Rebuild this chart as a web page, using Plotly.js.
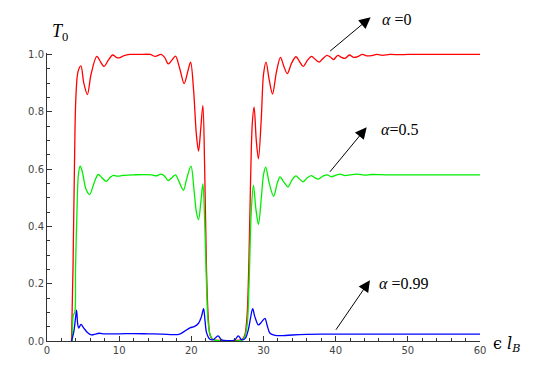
<!DOCTYPE html>
<html>
<head>
<meta charset="utf-8">
<script src="https://cdn.plot.ly/plotly-3.0.1.min.js"></script>
<style>
  html, body { margin: 0; padding: 0; background: #fff; }
  #plot { width: 545px; height: 382px; }
</style>
</head>
<body>
<div id="plot"></div>
<script>
  // alpha = 0 (red)
  const redX = [3.4, 3.6, 3.8, 4.0, 4.3, 4.7, 5.1, 5.6, 6.1, 6.9, 7.4, 7.9, 8.5, 9.1, 9.6, 10.0, 10.6, 11.5, 13, 14.3,
    15.0, 15.8, 16.3, 16.8, 17.3, 17.8, 18.4, 19.0, 19.5, 19.9, 20.3, 20.7, 21.0, 21.3, 21.6, 21.85, 22.1, 22.35, 22.6, 23.0,
    24, 25, 26, 27, 27.4, 27.7, 27.95, 28.2, 28.45, 28.7, 29.0, 29.3, 29.7, 30.0, 30.35, 30.8, 31.25, 31.8, 32.35, 32.8,
    33.3, 33.9, 34.5, 35.0, 35.5, 36.1, 36.65, 37.2, 37.7, 38.2, 38.8, 39.3, 39.7, 40.3, 40.8, 41.3, 41.9, 42.5, 43.1, 43.7,
    44.3, 45.0, 45.7, 46.5, 47.5, 49, 50, 60];
  const redY = [0, 0.25, 0.6, 0.85, 0.94, 0.96, 0.9, 0.86, 0.93, 0.993, 0.975, 0.958, 0.98, 0.998, 0.99, 0.988, 0.995, 1.0, 1.0, 1.0,
    0.993, 1.0, 0.99, 0.967, 0.98, 0.994, 0.95, 0.898, 0.94, 0.973, 0.88, 0.72, 0.663, 0.74, 0.822, 0.6, 0.25, 0.08, 0.02, 0.005,
    0.002, 0, 0.002, 0.005, 0.02, 0.08, 0.25, 0.55, 0.76, 0.816, 0.7, 0.636, 0.78, 0.93, 0.973, 0.91, 0.862, 0.94, 0.99, 0.96,
    0.933, 0.97, 0.992, 0.975, 0.958, 0.98, 0.993, 0.982, 0.973, 0.985, 0.997, 0.99, 0.982, 0.997, 0.99, 0.986, 0.998, 0.99, 0.993, 1.0,
    0.995, 0.996, 1.0, 0.997, 1.0, 0.999, 1.0, 1.0];

  // alpha = 0.5 (green)
  const greenX = [3.5, 3.65, 3.85, 3.95, 4.15, 4.35, 4.6, 4.9, 5.4, 5.9, 6.5, 7.1, 7.6, 8.2, 8.7, 9.2, 9.8, 10.5, 12, 14.5,
    15.1, 15.8, 16.3, 16.8, 17.3, 17.8, 18.4, 18.9, 19.4, 19.95, 20.4, 20.7, 21.0, 21.3, 21.6, 21.85, 22.1, 22.35, 22.7, 23.2,
    25, 27, 27.4, 27.75, 28.0, 28.3, 28.6, 28.95, 29.3, 29.7, 30.0, 30.3, 30.8, 31.4, 31.9, 32.3, 32.8, 33.4, 33.9, 34.5,
    35.0, 35.5, 36.0, 36.6, 37.1, 37.6, 38.2, 38.8, 39.4, 40.0, 40.6, 41.3, 42.0, 43, 44, 45, 47, 60];
  const greenY = [0, 0.09, 0.1, 0.25, 0.45, 0.58, 0.61, 0.59, 0.53, 0.511, 0.55, 0.581, 0.57, 0.557, 0.57, 0.578, 0.575, 0.578, 0.58, 0.58,
    0.576, 0.582, 0.575, 0.56, 0.57, 0.58, 0.55, 0.526, 0.57, 0.61, 0.52, 0.45, 0.424, 0.48, 0.549, 0.42, 0.2, 0.06, 0.015, 0.003,
    0, 0.003, 0.015, 0.06, 0.2, 0.45, 0.544, 0.46, 0.407, 0.5, 0.58, 0.607, 0.55, 0.505, 0.55, 0.573, 0.555, 0.538, 0.56, 0.576,
    0.565, 0.555, 0.568, 0.577, 0.57, 0.565, 0.575, 0.58, 0.573, 0.578, 0.582, 0.577, 0.58, 0.582, 0.579, 0.581, 0.58, 0.58];

  // alpha = 0.99 (blue)
  const blueX = [3.4, 3.7, 3.95, 4.1, 4.25, 4.4, 4.7, 5.1, 5.6, 6.2, 6.7, 7.2, 8, 10, 12, 14, 16, 17.5, 18.4, 19.8,
    20.4, 21.0, 21.4, 21.7, 21.9, 22.1, 22.5, 23.0, 23.7, 24.2, 25, 26, 26.5, 27.0, 27.5, 27.9, 28.2, 28.5, 28.8, 29.3,
    29.7, 30.2, 30.5, 30.9, 31.6, 32.7, 34, 36, 38, 40, 60];
  const blueY = [0, 0.03, 0.08, 0.108, 0.06, 0.045, 0.058, 0.045, 0.03, 0.021, 0.024, 0.027, 0.025, 0.025, 0.026, 0.025, 0.024, 0.022, 0.024, 0.046,
    0.05, 0.062, 0.085, 0.113, 0.07, 0.03, 0.008, 0.004, 0.018, 0.004, 0.001, 0.003, 0.018, 0.004, 0.01, 0.04, 0.08, 0.113, 0.085, 0.056,
    0.065, 0.079, 0.055, 0.027, 0.02, 0.019, 0.021, 0.023, 0.024, 0.024, 0.024];

  const alphaLabels = ["<i>α</i> =0", "<i>α</i>=0.5", "<i>α</i> =0.99"];
  // arrow heads (x data, y paper), tails as pixel offsets from the head, label anchors
  const arrowHeadX = [44.85, 44.3, 44.75];
  const arrowHeadY = [1.124, 0.742, 0.211];
  const arrowOffX = [-42, -38, -35];
  const arrowOffY = [35, 46, 51];
  const labelX = [46.1, 46.0, 45.7];
  const labelY = [1.116, 0.735, 0.201];

  const xTicks = [0, 10, 20, 30, 40, 50, 60];
  const yTicks = [0, 0.2, 0.4, 0.6, 0.8, 1.0];

  const lineW = 1.3;
  const traces = [
    { x: redX, y: redY, color: "#ff0000" },
    { x: greenX, y: greenY, color: "#00ee00" },
    { x: blueX, y: blueY, color: "#0000ff" }
  ].map((s) => ({
    type: "scatter",
    mode: "lines",
    x: s.x,
    y: s.y,
    line: { color: s.color, width: lineW, shape: "spline", smoothing: 0.9 },
    hoverinfo: "skip"
  }));

  const serif = "Liberation Serif, Times New Roman, serif";
  const annotations = [];
  for (let i = 0; i < alphaLabels.length; i++) {
    annotations.push({
      x: arrowHeadX[i], y: arrowHeadY[i], xref: "x", yref: "paper",
      ax: arrowOffX[i], ay: arrowOffY[i],
      text: "", showarrow: true,
      arrowhead: 2, arrowsize: 2.3, arrowwidth: 1, arrowcolor: "#000",
      standoff: 0, startstandoff: 0
    });
    annotations.push({
      x: labelX[i], y: labelY[i], xref: "x", yref: "paper",
      text: alphaLabels[i], showarrow: false,
      xanchor: "left", yanchor: "middle",
      font: { family: serif, size: 16, color: "#000" }
    });
  }

  // axis labels
  annotations.push({
    x: 0.008, y: 1.07, xref: "paper", yref: "paper",
    text: "<i>T</i><sub>0</sub>", showarrow: false,
    xanchor: "left", yanchor: "middle",
    font: { family: serif, size: 18, color: "#000" }
  });
  annotations.push({
    x: 1.025, y: -0.012, xref: "paper", yref: "paper",
    text: "ϵ <i>l</i><sub><i>B</i></sub>", showarrow: false,
    xanchor: "left", yanchor: "middle",
    font: { family: "DejaVu Serif, Liberation Serif, serif", size: 16, color: "#000" }
  });

  const tickFont = { family: "DejaVu Sans, sans-serif", size: 10, color: "#444" };

  const layout = {
    width: 545,
    height: 382,
    margin: { l: 47, r: 65, t: 53, b: 41 },
    paper_bgcolor: "#fff",
    plot_bgcolor: "#fff",
    showlegend: false,
    xaxis: {
      range: [0, 60],
      showgrid: false,
      zeroline: false,
      showline: true,
      linecolor: "#333",
      linewidth: 1,
      ticks: "inside",
      ticklen: 5,
      tickcolor: "#333",
      tickvals: xTicks,
      tickfont: tickFont,
      minor: { dtick: 2, ticks: "inside", ticklen: 3, tickcolor: "#333", showgrid: false }
    },
    yaxis: {
      range: [0, 1.005],
      showgrid: false,
      zeroline: false,
      showline: true,
      linecolor: "#333",
      linewidth: 1,
      ticks: "inside",
      ticklen: 5,
      tickcolor: "#333",
      tickvals: yTicks,
      tickformat: ".1f",
      tickfont: tickFont,
      minor: { dtick: 0.05, ticks: "inside", ticklen: 3, tickcolor: "#333", showgrid: false }
    },
    annotations
  };

  Plotly.newPlot("plot", traces, layout, { displayModeBar: false, staticPlot: true });
</script>
</body>
</html>
